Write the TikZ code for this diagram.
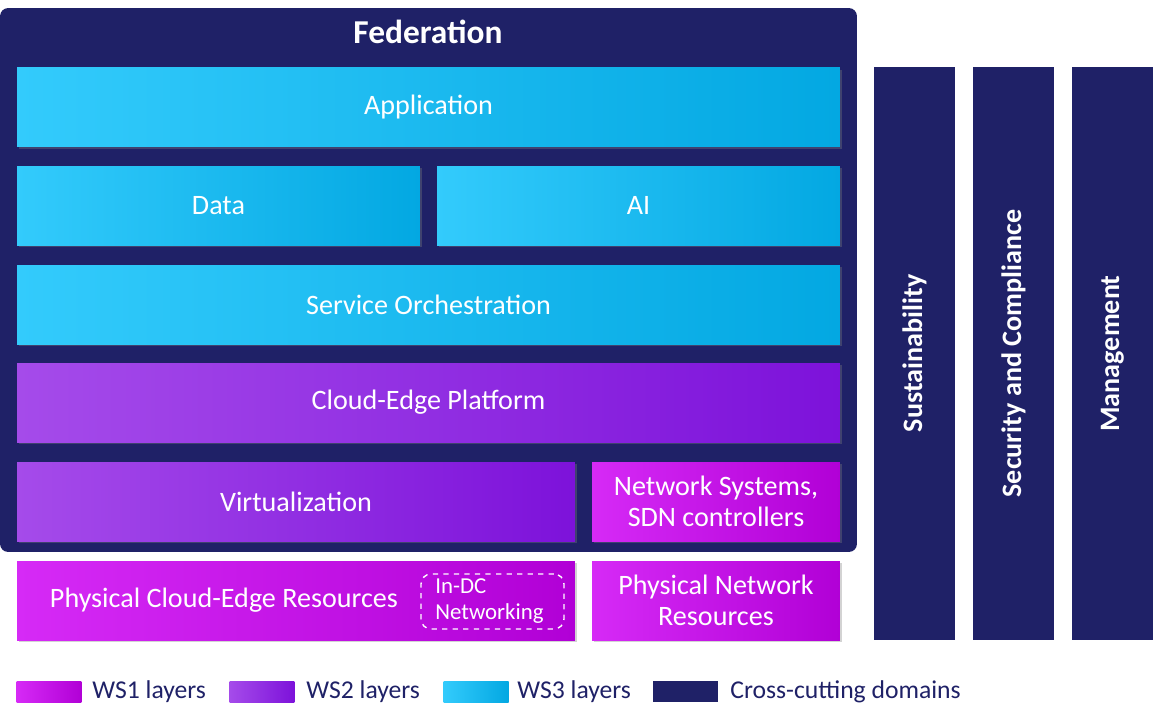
\documentclass[tikz,border=0pt]{standalone}
\usepackage{fontspec}
\setmainfont{Carlito}
\usetikzlibrary{shadows}

\definecolor{navy}{HTML}{1F2167}
\definecolor{wsonea}{HTML}{D62AF6}
\definecolor{wsoneb}{HTML}{B100D6}
\definecolor{wstwoa}{HTML}{A54BEA}
\definecolor{wstwob}{HTML}{7D12DA}
\definecolor{wsthreea}{HTML}{33CBFC}
\definecolor{wsthreeb}{HTML}{03A8E2}

\tikzset{
    layer/.style={rectangle,inner sep=0pt,text=white,align=center,
        font=\fontsize{16}{17.5}\selectfont,
        drop shadow={shadow xshift=1.2pt,shadow yshift=-1.2pt,opacity=0.35}},
    wsone/.style={layer,left color=wsonea,right color=wsoneb},
    wstwo/.style={layer,left color=wstwoa,right color=wstwob},
    wsthree/.style={layer,left color=wsthreea,right color=wsthreeb},
    crossbar/.style={rectangle,inner sep=0pt,fill=navy,text=white,rotate=90,
        minimum width=11.46cm,minimum height=1.62cm,
        font=\fontsize{16}{19}\bfseries\selectfont},
    swatch/.style={rectangle,inner sep=0pt,minimum width=1.3cm,minimum height=0.42cm},
    legtext/.style={anchor=west,inner sep=0pt,text=navy,font=\fontsize{14.6}{17}\selectfont}
}

\begin{document}
\begin{tikzpicture}[x=0.02cm,y=-0.02cm]
            \useasboundingbox (0,0) rectangle (1156,721);
            \node[fill=navy,rounded corners=0.16cm,minimum width=17.14cm,minimum height=10.88cm,inner sep=0pt] (fed) at (428.5,280) {};
            \node[text=white,font=\fontsize{19}{22}\bfseries\selectfont] (fedtitle) at (428,32) {Federation};
            \node[wsthree,minimum width=16.46cm,minimum height=1.58cm] (app) at (428.5,107) {Application};
            \node[wsthree,minimum width=8.06cm,minimum height=1.58cm] (data) at (218.5,205.5) {Data};
            \node[wsthree,minimum width=8.06cm,minimum height=1.58cm] (ai) at (638.5,205.5) {AI};
            \node[wsthree,minimum width=16.46cm,minimum height=1.58cm] (orch) at (428.5,304.5) {Service Orchestration};
            \node[wstwo,minimum width=16.46cm,minimum height=1.58cm] (platform) at (428.5,402.5) {Cloud-Edge Platform};
            \node[wstwo,minimum width=11.16cm,minimum height=1.58cm] (virt) at (296,501.5) {Virtualization};
            \node[wsone,minimum width=4.96cm,minimum height=1.58cm] (netsys) at (716,501.5) {Network Systems,\\SDN controllers};
            \node[wsone,minimum width=11.16cm,minimum height=1.58cm] (phys) at (296,600.5) {};
            \node[text=white,font=\fontsize{16}{19}\selectfont] (physlabel) at (224,600.5) {Physical Cloud-Edge Resources};
            \node[draw=white,dashed,thick,rounded corners=0.2cm,minimum width=2.86cm,minimum height=1.1cm,inner sep=0pt] (indc) at (492.5,601.5) {};
            \node[anchor=west,text=white,align=left,font=\fontsize{13}{14.5}\selectfont,inner sep=0pt] (indclabel) at (435,601) {In-DC\\Networking};
            \node[wsone,minimum width=4.96cm,minimum height=1.58cm] (physnet) at (716,600.5) {Physical Network\\Resources};
            % cross-cutting domains
            \node[crossbar] (sust) at (914.5,353.5) {Sustainability};
            \node[crossbar] (secu) at (1013.5,353.5) {Security and Compliance};
            \node[crossbar] (mgmt) at (1112.5,353.5) {Management};
            % legend
            \node[swatch,left color=wsonea,right color=wsoneb] (legone) at (49,691.5) {};
            \node[legtext] (legonetext) at (92,691.5) {WS1 layers};
            \node[swatch,left color=wstwoa,right color=wstwob] (legtwo) at (262,691.5) {};
            \node[legtext] (legtwotext) at (306,691.5) {WS2 layers};
            \node[swatch,left color=wsthreea,right color=wsthreeb] (legthree) at (476,691.5) {};
            \node[legtext] (legthreetext) at (517,691.5) {WS3 layers};
            \node[swatch,fill=navy] (legfour) at (685,691.5) {};
            \node[legtext] (legfourtext) at (730,691.5) {Cross-cutting domains};
        \end{tikzpicture}
\end{document}
